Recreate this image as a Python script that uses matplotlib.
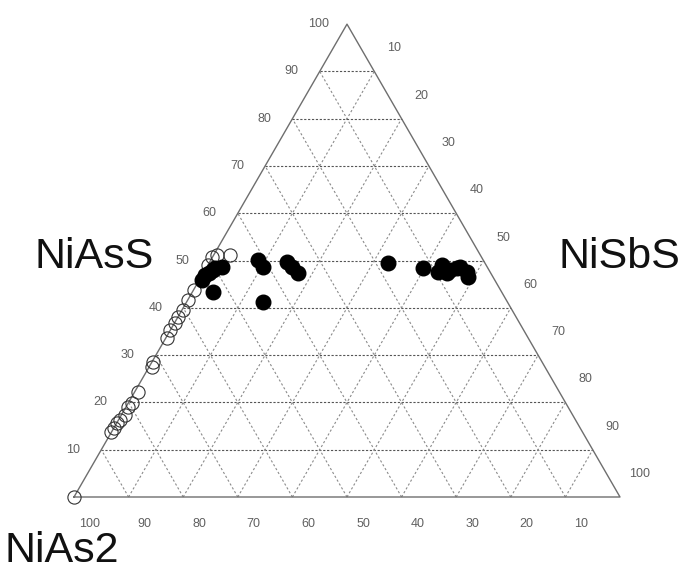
import numpy as np
import matplotlib
matplotlib.use("Agg")
import matplotlib.pyplot as plt

# Ternary data: NiAsS (top), NiSbS (right), NiAs2 = remainder (left)
open_nias_s = [0, 13.7, 14.6, 15.6, 16.3, 17.3, 19.0, 19.9, 22.2, 27.5, 28.5, 33.6, 35.3,
               36.8, 38.1, 39.5, 41.6, 43.8, 49.0, 50.7, 51.2, 51.2]
open_nisbs = [0, 0.0, 0.0, 0.0, 0.3, 0.7, 0.4, 0.7, 0.6, 0.5, 0.2, 0.2, 0.0,
              0.1, 0.0, 0.2, 0.0, 0.0, 0.0, 0.0, 0.6, 3.0]

filled_nias_s = [45.9, 46.9, 47.4, 48.0, 48.4, 48.6, 43.3, 50.1, 48.6, 41.2, 49.7, 48.6, 47.4,
                 49.5, 48.4, 47.6, 49.0, 48.0, 47.4, 48.0, 48.4, 48.6, 47.6, 46.5]
filled_nisbs = [0.5, 0.5, 1.0, 1.5, 1.6, 2.8, 3.8, 8.6, 10.3, 14.0, 14.2, 15.6, 17.3,
                32.8, 39.7, 42.9, 42.9, 43.9, 44.6, 44.9, 45.9, 46.4, 48.2, 48.9]

left_ticks = [10, 20, 30, 40, 50, 60, 70, 80, 90, 100]
right_ticks = [10, 20, 30, 40, 50, 60, 70, 80, 90, 100]
bottom_ticks = [100, 90, 80, 70, 60, 50, 40, 30, 20, 10]
vertex_labels = ["NiAsS", "NiSbS", "NiAs2"]

# geometry (pixels)
X0, Y0, W = 74.0, 497.0, 546.0
H = W * np.sqrt(3) / 2


def tern(a, b):
    a = np.asarray(a, float)
    b = np.asarray(b, float)
    x = X0 + W * (b + a / 2) / 100.0
    y = Y0 - H * a / 100.0
    return x, y


fig = plt.figure(figsize=(6.82, 5.72), dpi=100)
ax = fig.add_axes([0, 0, 1, 1])
ax.set_xlim(0, 682)
ax.set_ylim(572, 0)
ax.axis("off")

# grid
for v in range(10, 100, 10):
    # horizontal (NiAsS const)
    x, y = tern([v, v], [0, 100 - v])
    ax.plot(x, y, ls=(0, (2, 1.5)), color="#555555", lw=0.8, zorder=1)
    # NiSbS const
    x, y = tern([0, 100 - v], [v, v])
    ax.plot(x, y, ls=(0, (2, 2)), color="#8a8a8a", lw=0.8, zorder=1)
    # NiAs2 const
    x, y = tern([0, 100 - v], [100 - v, 0])
    ax.plot(x, y, ls=(0, (2, 2)), color="#8a8a8a", lw=0.8, zorder=1)

# triangle
x, y = tern([0, 0, 100, 0], [0, 100, 0, 0])
ax.plot(x, y, color="#6e6e6e", lw=1.0, zorder=2)

tick_kw = dict(fontsize=9, color="#606060", family="Liberation Sans", ha="center", va="center")
for v in left_ticks:
    x, y = tern(v, 0)
    ax.text(x - 28, y, str(v), **tick_kw)
for v in right_ticks:
    x, y = tern(100 - v, v)
    ax.text(x + 20, y - 23, str(v), **tick_kw)
for v in bottom_ticks:
    x, y = tern(0, 100 - v)
    ax.text(x + 16, y + 27, str(v), **tick_kw)

lab_kw = dict(fontsize=31, color="#111111", family="Liberation Sans")
ax.text(35, 268, vertex_labels[0], ha="left", va="baseline", **lab_kw)
ax.text(558, 268, vertex_labels[1], ha="left", va="baseline", **lab_kw)
ax.text(4, 571, vertex_labels[2], ha="left", va="bottom", **lab_kw)

# data
x, y = tern(open_nias_s, open_nisbs)
ax.plot(x, y, "o", ms=9.5, mfc="none", mec="#333333", mew=0.8, zorder=3)
x, y = tern(filled_nias_s, filled_nisbs)
ax.plot(x, y, "o", ms=10.5, mfc="black", mec="black", zorder=4)

fig.savefig("out.png", dpi=100)
